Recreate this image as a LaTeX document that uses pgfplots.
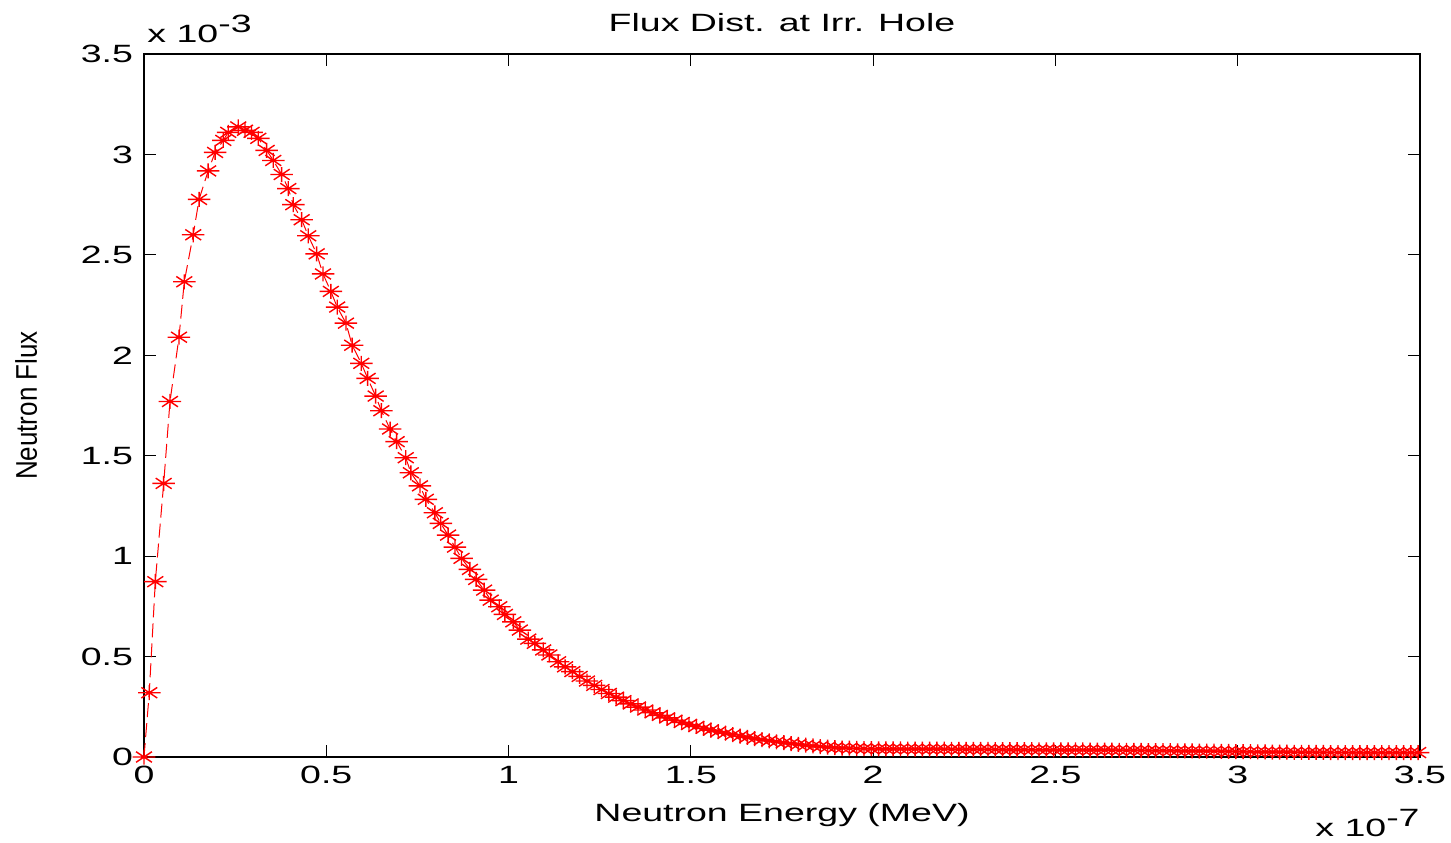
\documentclass[border=0pt]{standalone}
\usepackage{fontspec}
\setmainfont{Liberation Sans}[FakeStretch=1.5]
\newfontfamily\plainfont{Liberation Sans}
\usepackage{pgfplots}
\pgfplotsset{compat=1.18}

% MATLAB style '*' marker: a + and an x, wider than tall
\pgfdeclareplotmark{mstar}{%
  \pgfpathmoveto{\pgfpoint{-1.5\pgfplotmarksize}{0pt}}%
  \pgfpathlineto{\pgfpoint{1.5\pgfplotmarksize}{0pt}}%
  \pgfpathmoveto{\pgfpoint{0pt}{-\pgfplotmarksize}}%
  \pgfpathlineto{\pgfpoint{0pt}{\pgfplotmarksize}}%
  \pgfpathmoveto{\pgfpoint{-1.06\pgfplotmarksize}{-0.707\pgfplotmarksize}}%
  \pgfpathlineto{\pgfpoint{1.06\pgfplotmarksize}{0.707\pgfplotmarksize}}%
  \pgfpathmoveto{\pgfpoint{-1.06\pgfplotmarksize}{0.707\pgfplotmarksize}}%
  \pgfpathlineto{\pgfpoint{1.06\pgfplotmarksize}{-0.707\pgfplotmarksize}}%
  \pgfusepathqstroke}

\newcommand\lblfont{\fontsize{12.5}{15}\selectfont}

% energy in 1e-7 MeV, flux in 1e-3
\pgfplotstableread{
x y
0 0
0.0145 0.32
0.031 0.873
0.054 1.362
0.0713 1.77
0.096 2.09
0.1105 2.366
0.135 2.60
0.151 2.776
0.176 2.918
0.195 3.01
0.2175 3.07
0.231 3.11
0.2586 3.137
0.277 3.12
0.295 3.11
0.3135 3.08
0.3365 3.02
0.3546 2.97
0.3777 2.90
0.3958 2.83
0.4095 2.75
0.4325 2.675
0.4506 2.595
0.4737 2.505
0.4910 2.405
0.5125 2.318
0.530 2.24
0.554 2.16
0.571 2.05
0.596 1.96
0.6135 1.885
0.6355 1.797
0.651 1.724
0.675 1.633
0.693 1.57
0.718 1.49
0.732 1.415
0.757 1.35
0.773 1.283
0.798 1.216
0.814 1.163
0.834 1.105
0.853 1.045
0.871 0.989
0.894 0.934
0.911 0.884
0.933 0.831
0.951 0.781
0.9745 0.748
0.99 0.71
1.013 0.673
1.031 0.632
1.054 0.587
1.072 0.566
1.095 0.533
1.112 0.508
1.136 0.474
1.155 0.449
1.175 0.4253
1.195 0.4011
1.215 0.3782
1.235 0.3565
1.255 0.3359
1.275 0.3164
1.295 0.2980
1.315 0.2806
1.335 0.2642
1.355 0.2487
1.375 0.2340
1.395 0.2201
1.415 0.2071
1.435 0.1947
1.455 0.1831
1.475 0.1721
1.495 0.1618
1.515 0.1520
1.535 0.1428
1.555 0.1342
1.575 0.1260
1.595 0.1183
1.615 0.1111
1.635 0.1043
1.655 0.0979
1.675 0.0919
1.695 0.0862
1.715 0.0809
1.735 0.0759
1.755 0.0712
1.775 0.0668
1.795 0.0626
1.815 0.0587
1.835 0.0550
1.855 0.0520
1.875 0.0490
1.895 0.0465
1.915 0.0448
1.935 0.0436
1.955 0.0425
1.975 0.0418
1.995 0.0412
2.015 0.0408
2.035 0.0404
2.055 0.0401
2.075 0.0399
2.095 0.0397
2.115 0.0395
2.135 0.0393
2.155 0.0391
2.175 0.0389
2.195 0.0387
2.215 0.0385
2.235 0.0383
2.255 0.0381
2.275 0.0379
2.295 0.0377
2.315 0.0375
2.335 0.0373
2.355 0.0371
2.375 0.0369
2.395 0.0367
2.415 0.0365
2.435 0.0363
2.455 0.0361
2.475 0.0359
2.495 0.0357
2.515 0.0355
2.535 0.0353
2.555 0.0351
2.575 0.0349
2.595 0.0347
2.615 0.0344
2.635 0.0341
2.655 0.0338
2.675 0.0335
2.695 0.0332
2.715 0.0329
2.735 0.0326
2.755 0.0323
2.775 0.0320
2.795 0.0317
2.815 0.0314
2.835 0.0310
2.855 0.0306
2.875 0.0302
2.895 0.0298
2.915 0.0293
2.935 0.0288
2.955 0.0283
2.975 0.0278
2.995 0.0273
3.015 0.0268
3.035 0.0263
3.055 0.0258
3.075 0.0253
3.095 0.0248
3.115 0.0243
3.135 0.0239
3.155 0.0235
3.175 0.0232
3.195 0.0229
3.215 0.0227
3.235 0.0225
3.255 0.0224
3.275 0.0223
3.295 0.0222
3.315 0.0221
3.335 0.0221
3.355 0.0220
3.375 0.0220
3.395 0.0220
3.415 0.0220
3.435 0.0220
3.455 0.0220
3.475 0.0220
3.495 0.0220
}\fluxdata

\begin{document}
\begin{tikzpicture}
\begin{axis}[
  at={(0,0)}, anchor=south west,
  scale only axis,
  width=638pt, height=351.5pt,
  xmin=0, xmax=3.5, ymin=0, ymax=3.5,
  xtick={0,0.5,1,1.5,2,2.5,3,3.5},
  ytick={0,0.5,1,1.5,2,2.5,3,3.5},
  scaled ticks=false,
  tick align=inside,
  major tick length=6pt,
  tick style={black, line width=0.6pt},
  axis line style={black, line width=0.8pt},
  /pgf/number format/assume math mode=true,
  tick label style={font=\lblfont},
  yticklabel style={xshift=-2pt},
  xticklabel style={yshift=-1pt},
  title={Flux Dist. at Irr. Hole},
  every axis title/.style={font=\lblfont, at={(rel axis cs:0.5,1)}, anchor=base, yshift=11.5pt},
  xlabel={Neutron Energy (MeV)},
  xlabel style={font=\lblfont, at={(rel axis cs:0.5,0)}, anchor=base, yshift=-32.3pt},
  ylabel={\scalebox{1}[1.15]{Neutron Flux}},
  every axis y label/.style={font=\plainfont\fontsize{13}{15}\selectfont,
    at={(rel axis cs:0,0.5)}, xshift=-53.6pt, rotate=90, anchor=base},
  clip=false,
]
\addplot[red, line width=0.5pt, dash pattern=on 7pt off 3pt,
  mark=mstar, mark size=3.75pt,
  mark options={solid, line width=0.7pt}]
  table[x=x, y=y] {\fluxdata};
\node[anchor=base west, font=\lblfont, inner sep=0pt]
  at ([xshift=1.5pt, yshift=6pt]rel axis cs:0,1) {x 10\raisebox{5pt}{-3}};
\node[anchor=base east, font=\lblfont, inner sep=0pt]
  at ([yshift=-39.8pt]rel axis cs:1,0) {x 10\raisebox{5pt}{-7}};
\end{axis}
\pgfresetboundingbox
\useasboundingbox (-72pt,-42.5pt) rectangle (653.5pt,378.5pt);
\end{tikzpicture}
\end{document}
